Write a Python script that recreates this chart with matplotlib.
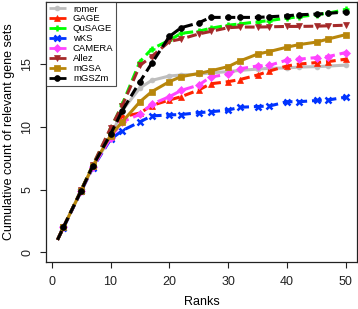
import matplotlib
matplotlib.use("Agg")
import matplotlib.pyplot as plt

plt.rcParams['font.family'] = ['Liberation Sans', 'DejaVu Sans']

ranks = [1, 2, 5, 7, 10, 12, 15, 17, 20, 22, 25, 27, 30, 32, 35, 37, 40, 42, 45, 47, 50]

romer = [1, 2, 4.9, 6.8, 9.2, 11.3, 13.1, 13.7, 14.05, 14.13, 14.2, 14.3, 14.4, 14.5, 14.6, 14.66, 14.7, 14.76, 14.8, 14.84, 14.92]
gage = [1, 2, 4.9, 6.85, 9.2, 10.8, 11.1, 11.7, 12.14, 12.4, 12.94, 13.43, 13.6, 13.77, 14.13, 14.45, 14.85, 15.0, 15.12, 15.2, 15.39]
qusage = [1, 2, 4.95, 6.95, 9.8, 11.8, 15.2, 16.2, 16.9, 17.45, 17.62, 17.85, 18.1, 18.2, 18.37, 18.47, 18.66, 18.77, 18.94, 19.06, 19.35]
wks = [1, 1.95, 4.85, 6.75, 9.0, 9.7, 10.4, 10.87, 10.95, 10.98, 11.13, 11.2, 11.34, 11.56, 11.62, 11.66, 12.0, 12.0, 12.1, 12.14, 12.37]
camera = [1, 2, 4.9, 6.8, 9.1, 10.4, 11.0, 11.8, 12.4, 12.9, 13.33, 13.97, 14.2, 14.63, 14.85, 14.9, 15.32, 15.39, 15.52, 15.6, 15.92]
allez = [1, 2, 4.95, 6.95, 9.9, 11.7, 14.9, 15.6, 16.8, 17.0, 17.4, 17.6, 17.9, 17.95, 17.95, 17.97, 18.0, 18.0, 18.02, 18.05, 18.1]
mgsa = [1, 2, 4.9, 6.9, 9.3, 10.4, 12.0, 12.8, 13.6, 14.0, 14.25, 14.46, 14.8, 15.25, 15.8, 16.0, 16.35, 16.55, 16.75, 17.0, 17.35]
mgszm = [1, 2, 4.9, 6.9, 9.4, 11.3, 13.6, 15.06, 17.2, 17.9, 18.29, 18.72, 18.72, 18.72, 18.72, 18.77, 18.85, 18.93, 18.98, 19.04, 19.16]

labels = ["romer", "GAGE", "QuSAGE", "wKS", "CAMERA", "Allez", "mGSA", "mGSZm"]
series = [romer, gage, qusage, wks, camera, allez, mgsa, mgszm]
colors = ["#BEBEBE", "#FF2200", "#00FF00", "#0033FF", "#FF44FF", "#A52A2A", "#B8860B", "#000000"]
markers = ["o", "^", "+", "x", "D", "v", "s", "o"]
msizes = [3.5, 4.5, 5.0, 4.0, 3.6, 4.5, 4.0, 4.2]
medgew = [0.5, 0.5, 1.8, 1.8, 0.5, 0.5, 0.5, 0.5]
dashed = [False, True, True, True, True, True, False, True]

fig = plt.figure(figsize=(3.58, 3.09), dpi=100)
ax = fig.add_axes([0.1285, 0.152, 0.87, 0.8425])

for lab, ys, c, m, ms, mew, d in zip(labels, series, colors, markers, msizes, medgew, dashed):
    line, = ax.plot(ranks, ys, color=c, lw=2.2, marker=m, ms=ms, markevery=list(range(1, len(ranks))),
                    markeredgewidth=mew, label=lab, solid_capstyle='butt', dash_capstyle='butt')
    if d:
        line.set_dashes([3.2, 1.6])

ax.set_xlim(-0.96, 51.96)
ax.set_ylim(-0.77, 19.97)
ax.set_xticks([0, 10, 20, 30, 40, 50])
ax.set_yticks([0, 5, 10, 15])
ax.tick_params(axis='both', direction='out', length=4, width=0.8, labelsize=9, colors='#222222')
ax.tick_params(axis='x', pad=6)
ax.tick_params(axis='y', pad=5)
for lbl in ax.get_yticklabels():
    lbl.set_rotation(90)
    lbl.set_va('center')
for sp in ax.spines.values():
    sp.set_linewidth(0.9)
    sp.set_color('#222222')

ax.set_xlabel("Ranks", fontsize=9, labelpad=6)
ax.set_ylabel("Cumulative count of relevant gene sets", fontsize=9, labelpad=5)

leg = ax.legend(loc='upper left', fontsize=6.8, frameon=True, fancybox=False, borderaxespad=0,
                handlelength=1.8, handletextpad=0.75, labelspacing=0.1, borderpad=0.3)
leg.get_frame().set_edgecolor('#222222')
leg.get_frame().set_linewidth(0.8)
for h in leg.get_lines():
    h.set_linestyle('-')
    h.set_linewidth(2.0)

fig.savefig("out.png", dpi=100)
